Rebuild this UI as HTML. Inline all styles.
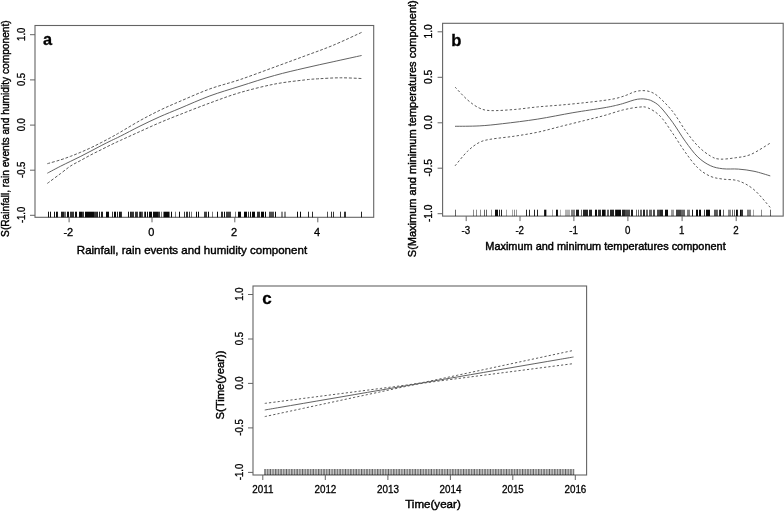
<!DOCTYPE html>
<html><head><meta charset="utf-8"><title>Figure</title>
<style>html,body{margin:0;padding:0;background:#fff}svg{display:block}text{stroke:#000;stroke-width:0.3px;paint-order:stroke}text[textLength]{stroke-width:0.42px}</style></head>
<body>
<svg width="784" height="512" viewBox="0 0 784 512" font-family="'Liberation Sans', sans-serif">
<rect width="784" height="512" fill="#fff"/>
<rect x="35" y="25.5" width="338.7" height="191.8" fill="#fff" stroke="#646464" stroke-width="1.1"/>
<line x1="30" y1="34.7" x2="35" y2="34.7" stroke="#646464" stroke-width="1"/>
<text transform="translate(24.5,34.30) scale(1.14,1) rotate(-90)" text-anchor="middle" font-size="9.5" fill="#000">1.0</text>
<line x1="30" y1="79.9" x2="35" y2="79.9" stroke="#646464" stroke-width="1"/>
<text transform="translate(24.5,79.50) scale(1.14,1) rotate(-90)" text-anchor="middle" font-size="9.5" fill="#000">0.5</text>
<line x1="30" y1="125.1" x2="35" y2="125.1" stroke="#646464" stroke-width="1"/>
<text transform="translate(24.5,124.70) scale(1.14,1) rotate(-90)" text-anchor="middle" font-size="9.5" fill="#000">0.0</text>
<line x1="30" y1="170.2" x2="35" y2="170.2" stroke="#646464" stroke-width="1"/>
<text transform="translate(24.5,169.80) scale(1.14,1) rotate(-90)" text-anchor="middle" font-size="9.5" fill="#000">-0.5</text>
<line x1="30" y1="215.3" x2="35" y2="215.3" stroke="#646464" stroke-width="1"/>
<text transform="translate(24.5,214.90) scale(1.14,1) rotate(-90)" text-anchor="middle" font-size="9.5" fill="#000">-1.0</text>
<line x1="69.1" y1="217.3" x2="69.1" y2="222.3" stroke="#646464" stroke-width="1"/>
<text transform="translate(68.30,235.6) scale(1.0,1)" text-anchor="middle" font-size="11" fill="#000">-2</text>
<line x1="152" y1="217.3" x2="152" y2="222.3" stroke="#646464" stroke-width="1"/>
<text transform="translate(151.20,235.6) scale(1.0,1)" text-anchor="middle" font-size="11" fill="#000">0</text>
<line x1="234.8" y1="217.3" x2="234.8" y2="222.3" stroke="#646464" stroke-width="1"/>
<text transform="translate(234.00,235.6) scale(1.0,1)" text-anchor="middle" font-size="11" fill="#000">2</text>
<line x1="317.8" y1="217.3" x2="317.8" y2="222.3" stroke="#646464" stroke-width="1"/>
<text transform="translate(317.00,235.6) scale(1.0,1)" text-anchor="middle" font-size="11" fill="#000">4</text>
<text x="76.8" y="254.2" font-size="11.6" textLength="230.3" lengthAdjust="spacingAndGlyphs" fill="#000" id="ax">Rainfall, rain events and humidity component</text>
<text transform="translate(8.6,236.9) rotate(-90)" font-size="11.3" textLength="216.6" lengthAdjust="spacingAndGlyphs" fill="#000" id="ay">S(Rainfall, rain events and humidity component)</text>
<text x="43.1" y="44.6" font-size="16.3" font-weight="bold" fill="#000">a</text>
<path d="M47.35 173.20 C49.52 172.05 56.52 168.28 60.40 166.30 C64.27 164.32 67.20 162.97 70.60 161.30 C74.00 159.63 77.40 158.02 80.80 156.30 C84.20 154.58 87.60 152.78 91.00 151.00 C94.40 149.22 97.80 147.35 101.20 145.60 C104.60 143.85 108.20 142.07 111.40 140.50 C114.60 138.93 115.63 138.60 120.40 136.20 C125.17 133.80 133.42 129.35 140.00 126.10 C146.58 122.85 153.23 119.67 159.90 116.70 C166.57 113.73 171.67 111.77 180.00 108.30 C188.33 104.83 199.90 99.58 209.90 95.90 C219.90 92.22 229.23 89.60 240.00 86.20 C250.77 82.80 263.67 78.53 274.50 75.50 C285.33 72.47 295.23 70.29 305.00 68.00 C314.77 65.71 323.67 63.83 333.10 61.75 C342.53 59.67 356.85 56.54 361.60 55.50" fill="none" stroke="#5a5a5a" stroke-width="0.95"/>
<path d="M47.35 163.70 C49.52 163.07 56.52 161.13 60.40 159.90 C64.27 158.67 67.20 157.58 70.60 156.30 C74.00 155.02 77.40 153.63 80.80 152.20 C84.20 150.77 87.60 149.30 91.00 147.70 C94.40 146.10 97.80 144.35 101.20 142.60 C104.60 140.85 108.20 138.95 111.40 137.20 C114.60 135.45 115.63 134.87 120.40 132.10 C125.17 129.33 133.42 124.24 140.00 120.60 C146.58 116.96 153.23 113.47 159.90 110.25 C166.57 107.03 171.67 104.86 180.00 101.30 C188.33 97.74 199.90 92.52 209.90 88.90 C219.90 85.28 229.23 83.23 240.00 79.60 C250.77 75.97 263.67 71.05 274.50 67.10 C285.33 63.15 295.23 59.53 305.00 55.90 C314.77 52.27 323.67 49.22 333.10 45.30 C342.53 41.38 356.85 34.55 361.60 32.40" fill="none" stroke="#5a5a5a" stroke-width="1.0" stroke-dasharray="2.9 1.8"/>
<path d="M47.35 183.40 C49.52 181.78 56.52 176.60 60.40 173.70 C64.27 170.80 67.20 168.22 70.60 166.00 C74.00 163.78 77.40 162.27 80.80 160.40 C84.20 158.53 87.60 156.58 91.00 154.80 C94.40 153.02 97.80 151.40 101.20 149.70 C104.60 148.00 108.20 146.15 111.40 144.60 C114.60 143.05 115.63 142.58 120.40 140.40 C125.17 138.22 133.42 134.47 140.00 131.50 C146.58 128.53 153.23 125.43 159.90 122.60 C166.57 119.77 171.67 117.77 180.00 114.50 C188.33 111.23 199.90 106.65 209.90 103.00 C219.90 99.35 229.23 95.75 240.00 92.60 C250.77 89.45 263.67 86.22 274.50 84.10 C285.33 81.98 297.58 80.79 305.00 79.90 C312.42 79.01 313.13 79.10 319.00 78.75 C324.87 78.40 333.10 77.84 340.20 77.80 C347.30 77.76 358.03 78.38 361.60 78.50" fill="none" stroke="#5a5a5a" stroke-width="1.0" stroke-dasharray="2.9 1.8"/>
<rect x="48" y="211.7" width="1" height="5.60" fill="#000" fill-opacity="0.94"/>
<rect x="50" y="211.7" width="1" height="5.60" fill="#000" fill-opacity="0.94"/>
<rect x="54" y="211.7" width="1" height="5.60" fill="#000" fill-opacity="0.94"/>
<rect x="56" y="211.7" width="1" height="5.60" fill="#000" fill-opacity="0.94"/>
<rect x="57" y="211.7" width="1" height="5.60" fill="#000" fill-opacity="0.87"/>
<rect x="61" y="211.7" width="1" height="5.60" fill="#000" fill-opacity="0.87"/>
<rect x="62" y="211.7" width="1" height="5.60" fill="#000" fill-opacity="0.87"/>
<rect x="63" y="211.7" width="1" height="5.60" fill="#000" fill-opacity="0.87"/>
<rect x="64" y="211.7" width="1" height="5.60" fill="#000" fill-opacity="0.58"/>
<rect x="65" y="211.7" width="1" height="5.60" fill="#000" fill-opacity="0.58"/>
<rect x="67" y="211.7" width="1" height="5.60" fill="#000" fill-opacity="0.96"/>
<rect x="68" y="211.7" width="1" height="5.60" fill="#000" fill-opacity="0.97"/>
<rect x="70" y="211.7" width="1" height="5.60" fill="#000" fill-opacity="0.79"/>
<rect x="71" y="211.7" width="1" height="5.60" fill="#000" fill-opacity="0.79"/>
<rect x="72" y="211.7" width="1" height="5.60" fill="#000" fill-opacity="0.79"/>
<rect x="73" y="211.7" width="1" height="5.60" fill="#000" fill-opacity="0.79"/>
<rect x="75" y="211.7" width="1" height="5.60" fill="#000" fill-opacity="0.94"/>
<rect x="76" y="211.7" width="1" height="5.60" fill="#000" fill-opacity="0.94"/>
<rect x="79" y="211.7" width="1" height="5.60" fill="#000" fill-opacity="0.96"/>
<rect x="80" y="211.7" width="1" height="5.60" fill="#000" fill-opacity="0.96"/>
<rect x="81" y="211.7" width="1" height="5.60" fill="#000" fill-opacity="0.96"/>
<rect x="82" y="211.7" width="1" height="5.60" fill="#000" fill-opacity="0.79"/>
<rect x="83" y="211.7" width="1" height="5.60" fill="#000" fill-opacity="0.79"/>
<rect x="85" y="211.7" width="1" height="5.60" fill="#000" fill-opacity="0.97"/>
<rect x="86" y="211.7" width="1" height="5.60" fill="#000" fill-opacity="0.97"/>
<rect x="87" y="211.7" width="1" height="5.60" fill="#000" fill-opacity="0.97"/>
<rect x="88" y="211.7" width="1" height="5.60" fill="#000" fill-opacity="0.97"/>
<rect x="89" y="211.7" width="1" height="5.60" fill="#000" fill-opacity="0.97"/>
<rect x="90" y="211.7" width="1" height="5.60" fill="#000" fill-opacity="0.97"/>
<rect x="91" y="211.7" width="1" height="5.60" fill="#000" fill-opacity="0.97"/>
<rect x="92" y="211.7" width="1" height="5.60" fill="#000" fill-opacity="0.97"/>
<rect x="93" y="211.7" width="1" height="5.60" fill="#000" fill-opacity="0.97"/>
<rect x="94" y="211.7" width="1" height="5.60" fill="#000" fill-opacity="0.79"/>
<rect x="95" y="211.7" width="1" height="5.60" fill="#000" fill-opacity="0.79"/>
<rect x="96" y="211.7" width="1" height="5.60" fill="#000" fill-opacity="0.79"/>
<rect x="97" y="211.7" width="1" height="5.60" fill="#000" fill-opacity="0.87"/>
<rect x="99" y="211.7" width="1" height="5.60" fill="#000" fill-opacity="0.87"/>
<rect x="101" y="211.7" width="1" height="5.60" fill="#000" fill-opacity="0.87"/>
<rect x="102" y="211.7" width="1" height="5.60" fill="#000" fill-opacity="0.87"/>
<rect x="106" y="211.7" width="1" height="5.60" fill="#000" fill-opacity="0.97"/>
<rect x="107" y="211.7" width="1" height="5.60" fill="#000" fill-opacity="0.97"/>
<rect x="108" y="211.7" width="1" height="5.60" fill="#000" fill-opacity="0.97"/>
<rect x="112" y="211.7" width="1" height="5.60" fill="#000" fill-opacity="0.79"/>
<rect x="114" y="211.7" width="1" height="5.60" fill="#000" fill-opacity="0.97"/>
<rect x="115" y="211.7" width="1" height="5.60" fill="#000" fill-opacity="0.96"/>
<rect x="117" y="211.7" width="1" height="5.60" fill="#000" fill-opacity="0.87"/>
<rect x="119" y="211.7" width="1" height="5.60" fill="#000" fill-opacity="0.94"/>
<rect x="120" y="211.7" width="1" height="5.60" fill="#000" fill-opacity="0.87"/>
<rect x="121" y="211.7" width="1" height="5.60" fill="#000" fill-opacity="0.79"/>
<rect x="128" y="211.7" width="1" height="5.60" fill="#000" fill-opacity="0.94"/>
<rect x="130" y="211.7" width="1" height="5.60" fill="#000" fill-opacity="0.87"/>
<rect x="131" y="211.7" width="1" height="5.60" fill="#000" fill-opacity="0.79"/>
<rect x="132" y="211.7" width="1" height="5.60" fill="#000" fill-opacity="0.79"/>
<rect x="133" y="211.7" width="1" height="5.60" fill="#000" fill-opacity="0.79"/>
<rect x="135" y="211.7" width="1" height="5.60" fill="#000" fill-opacity="0.79"/>
<rect x="136" y="211.7" width="1" height="5.60" fill="#000" fill-opacity="0.79"/>
<rect x="137" y="211.7" width="1" height="5.60" fill="#000" fill-opacity="0.74"/>
<rect x="139" y="211.7" width="1" height="5.60" fill="#000" fill-opacity="0.74"/>
<rect x="140" y="211.7" width="1" height="5.60" fill="#000" fill-opacity="0.92"/>
<rect x="141" y="211.7" width="1" height="5.60" fill="#000" fill-opacity="0.74"/>
<rect x="142" y="211.7" width="1" height="5.60" fill="#000" fill-opacity="0.69"/>
<rect x="144" y="211.7" width="1" height="5.60" fill="#000" fill-opacity="0.69"/>
<rect x="145" y="211.7" width="1" height="5.60" fill="#000" fill-opacity="0.96"/>
<rect x="147" y="211.7" width="1" height="5.60" fill="#000" fill-opacity="0.96"/>
<rect x="149" y="211.7" width="1" height="5.60" fill="#000" fill-opacity="0.97"/>
<rect x="150" y="211.7" width="1" height="5.60" fill="#000" fill-opacity="0.97"/>
<rect x="151" y="211.7" width="1" height="5.60" fill="#000" fill-opacity="0.97"/>
<rect x="153" y="211.7" width="1" height="5.60" fill="#000" fill-opacity="0.94"/>
<rect x="154" y="211.7" width="1" height="5.60" fill="#000" fill-opacity="0.94"/>
<rect x="155" y="211.7" width="1" height="5.60" fill="#000" fill-opacity="0.94"/>
<rect x="156" y="211.7" width="1" height="5.60" fill="#000" fill-opacity="0.94"/>
<rect x="157" y="211.7" width="1" height="5.60" fill="#000" fill-opacity="0.94"/>
<rect x="158" y="211.7" width="1" height="5.60" fill="#000" fill-opacity="0.79"/>
<rect x="159" y="211.7" width="1" height="5.60" fill="#000" fill-opacity="0.79"/>
<rect x="161" y="211.7" width="1" height="5.60" fill="#000" fill-opacity="0.52"/>
<rect x="163" y="211.7" width="1" height="5.60" fill="#000" fill-opacity="0.52"/>
<rect x="164" y="211.7" width="1" height="5.60" fill="#000" fill-opacity="0.96"/>
<rect x="165" y="211.7" width="1" height="5.60" fill="#000" fill-opacity="0.96"/>
<rect x="166" y="211.7" width="1" height="5.60" fill="#000" fill-opacity="0.96"/>
<rect x="167" y="211.7" width="1" height="5.60" fill="#000" fill-opacity="0.96"/>
<rect x="168" y="211.7" width="1" height="5.60" fill="#000" fill-opacity="0.96"/>
<rect x="169" y="211.7" width="1" height="5.60" fill="#000" fill-opacity="0.52"/>
<rect x="171" y="211.7" width="1" height="5.60" fill="#000" fill-opacity="0.97"/>
<rect x="175" y="211.7" width="1" height="5.60" fill="#000" fill-opacity="0.52"/>
<rect x="179" y="211.7" width="1" height="5.60" fill="#000" fill-opacity="0.96"/>
<rect x="184" y="211.7" width="1" height="5.60" fill="#000" fill-opacity="0.79"/>
<rect x="186" y="211.7" width="1" height="5.60" fill="#000" fill-opacity="0.79"/>
<rect x="187" y="211.7" width="1" height="5.60" fill="#000" fill-opacity="0.79"/>
<rect x="189" y="211.7" width="1" height="5.60" fill="#000" fill-opacity="0.79"/>
<rect x="191" y="211.7" width="1" height="5.60" fill="#000" fill-opacity="0.52"/>
<rect x="196" y="211.7" width="1" height="5.60" fill="#000" fill-opacity="0.96"/>
<rect x="198" y="211.7" width="1" height="5.60" fill="#000" fill-opacity="0.96"/>
<rect x="204" y="211.7" width="1" height="5.60" fill="#000" fill-opacity="0.74"/>
<rect x="205" y="211.7" width="1" height="5.60" fill="#000" fill-opacity="0.74"/>
<rect x="206" y="211.7" width="1" height="5.60" fill="#000" fill-opacity="0.74"/>
<rect x="208" y="211.7" width="1" height="5.60" fill="#000" fill-opacity="0.97"/>
<rect x="212" y="211.7" width="1" height="5.60" fill="#000" fill-opacity="0.52"/>
<rect x="217" y="211.7" width="1" height="5.60" fill="#000" fill-opacity="0.96"/>
<rect x="221" y="211.7" width="1" height="5.60" fill="#000" fill-opacity="0.79"/>
<rect x="222" y="211.7" width="1" height="5.60" fill="#000" fill-opacity="0.79"/>
<rect x="224" y="211.7" width="1" height="5.60" fill="#000" fill-opacity="0.96"/>
<rect x="226" y="211.7" width="1" height="5.60" fill="#000" fill-opacity="0.74"/>
<rect x="227" y="211.7" width="1" height="5.60" fill="#000" fill-opacity="0.74"/>
<rect x="228" y="211.7" width="1" height="5.60" fill="#000" fill-opacity="0.74"/>
<rect x="229" y="211.7" width="1" height="5.60" fill="#000" fill-opacity="0.74"/>
<rect x="230" y="211.7" width="1" height="5.60" fill="#000" fill-opacity="0.74"/>
<rect x="235" y="211.7" width="1" height="5.60" fill="#000" fill-opacity="0.52"/>
<rect x="238" y="211.7" width="1" height="5.60" fill="#000" fill-opacity="0.97"/>
<rect x="239" y="211.7" width="1" height="5.60" fill="#000" fill-opacity="0.97"/>
<rect x="240" y="211.7" width="1" height="5.60" fill="#000" fill-opacity="0.97"/>
<rect x="244" y="211.7" width="1" height="5.60" fill="#000" fill-opacity="0.97"/>
<rect x="245" y="211.7" width="1" height="5.60" fill="#000" fill-opacity="0.97"/>
<rect x="246" y="211.7" width="1" height="5.60" fill="#000" fill-opacity="0.97"/>
<rect x="248" y="211.7" width="1" height="5.60" fill="#000" fill-opacity="0.79"/>
<rect x="250" y="211.7" width="1" height="5.60" fill="#000" fill-opacity="0.96"/>
<rect x="252" y="211.7" width="1" height="5.60" fill="#000" fill-opacity="0.96"/>
<rect x="253" y="211.7" width="1" height="5.60" fill="#000" fill-opacity="0.96"/>
<rect x="254" y="211.7" width="1" height="5.60" fill="#000" fill-opacity="0.96"/>
<rect x="257" y="211.7" width="1" height="5.60" fill="#000" fill-opacity="0.79"/>
<rect x="258" y="211.7" width="1" height="5.60" fill="#000" fill-opacity="0.79"/>
<rect x="259" y="211.7" width="1" height="5.60" fill="#000" fill-opacity="0.79"/>
<rect x="261" y="211.7" width="1" height="5.60" fill="#000" fill-opacity="0.96"/>
<rect x="262" y="211.7" width="1" height="5.60" fill="#000" fill-opacity="0.96"/>
<rect x="263" y="211.7" width="1" height="5.60" fill="#000" fill-opacity="0.96"/>
<rect x="265" y="211.7" width="1" height="5.60" fill="#000" fill-opacity="0.97"/>
<rect x="269" y="211.7" width="1" height="5.60" fill="#000" fill-opacity="0.69"/>
<rect x="270" y="211.7" width="1" height="5.60" fill="#000" fill-opacity="0.69"/>
<rect x="271" y="211.7" width="1" height="5.60" fill="#000" fill-opacity="0.69"/>
<rect x="272" y="211.7" width="1" height="5.60" fill="#000" fill-opacity="0.69"/>
<rect x="273" y="211.7" width="1" height="5.60" fill="#000" fill-opacity="0.69"/>
<rect x="275" y="211.7" width="1" height="5.60" fill="#000" fill-opacity="0.97"/>
<rect x="281" y="211.7" width="1" height="5.60" fill="#000" fill-opacity="0.45"/>
<rect x="282" y="211.7" width="1" height="5.60" fill="#000" fill-opacity="0.45"/>
<rect x="284" y="211.7" width="1" height="5.60" fill="#000" fill-opacity="0.45"/>
<rect x="285" y="211.7" width="1" height="5.60" fill="#000" fill-opacity="0.45"/>
<rect x="297" y="211.7" width="1" height="5.60" fill="#000" fill-opacity="0.96"/>
<rect x="300" y="211.7" width="1" height="5.60" fill="#000" fill-opacity="0.96"/>
<rect x="308" y="211.7" width="1" height="5.60" fill="#000" fill-opacity="0.83"/>
<rect x="312" y="211.7" width="1" height="5.60" fill="#000" fill-opacity="0.83"/>
<rect x="327" y="211.7" width="1" height="5.60" fill="#000" fill-opacity="0.69"/>
<rect x="331" y="211.7" width="1" height="5.60" fill="#000" fill-opacity="0.79"/>
<rect x="333" y="211.7" width="1" height="5.60" fill="#000" fill-opacity="0.79"/>
<rect x="340" y="211.7" width="1" height="5.60" fill="#000" fill-opacity="0.79"/>
<rect x="344" y="211.7" width="1" height="5.60" fill="#000" fill-opacity="0.79"/>
<rect x="345" y="211.7" width="1" height="5.60" fill="#000" fill-opacity="0.79"/>
<rect x="361" y="211.7" width="1" height="5.60" fill="#000" fill-opacity="0.87"/>
<rect x="442.6" y="23.3" width="340.6" height="192.79999999999998" fill="#fff" stroke="#646464" stroke-width="1.1"/>
<line x1="437.6" y1="31.8" x2="442.6" y2="31.8" stroke="#646464" stroke-width="1"/>
<text transform="translate(431.9,31.40) scale(1.06,1) rotate(-90)" text-anchor="middle" font-size="10.2" fill="#000">1.0</text>
<line x1="437.6" y1="77.3" x2="442.6" y2="77.3" stroke="#646464" stroke-width="1"/>
<text transform="translate(431.9,76.90) scale(1.06,1) rotate(-90)" text-anchor="middle" font-size="10.2" fill="#000">0.5</text>
<line x1="437.6" y1="122.8" x2="442.6" y2="122.8" stroke="#646464" stroke-width="1"/>
<text transform="translate(431.9,122.40) scale(1.06,1) rotate(-90)" text-anchor="middle" font-size="10.2" fill="#000">0.0</text>
<line x1="437.6" y1="168.2" x2="442.6" y2="168.2" stroke="#646464" stroke-width="1"/>
<text transform="translate(431.9,167.80) scale(1.06,1) rotate(-90)" text-anchor="middle" font-size="10.2" fill="#000">-0.5</text>
<line x1="437.6" y1="213.7" x2="442.6" y2="213.7" stroke="#646464" stroke-width="1"/>
<text transform="translate(431.9,213.30) scale(1.06,1) rotate(-90)" text-anchor="middle" font-size="10.2" fill="#000">-1.0</text>
<line x1="466.2" y1="216.1" x2="466.2" y2="221.1" stroke="#646464" stroke-width="1"/>
<text transform="translate(465.90,233.9) scale(0.9,1)" text-anchor="middle" font-size="10.8" fill="#000">-3</text>
<line x1="520" y1="216.1" x2="520" y2="221.1" stroke="#646464" stroke-width="1"/>
<text transform="translate(519.70,233.9) scale(0.9,1)" text-anchor="middle" font-size="10.8" fill="#000">-2</text>
<line x1="573.9" y1="216.1" x2="573.9" y2="221.1" stroke="#646464" stroke-width="1"/>
<text transform="translate(573.60,233.9) scale(0.9,1)" text-anchor="middle" font-size="10.8" fill="#000">-1</text>
<line x1="627.9" y1="216.1" x2="627.9" y2="221.1" stroke="#646464" stroke-width="1"/>
<text transform="translate(627.60,233.9) scale(0.9,1)" text-anchor="middle" font-size="10.8" fill="#000">0</text>
<line x1="682.1" y1="216.1" x2="682.1" y2="221.1" stroke="#646464" stroke-width="1"/>
<text transform="translate(681.80,233.9) scale(0.9,1)" text-anchor="middle" font-size="10.8" fill="#000">1</text>
<line x1="736.2" y1="216.1" x2="736.2" y2="221.1" stroke="#646464" stroke-width="1"/>
<text transform="translate(735.90,233.9) scale(0.9,1)" text-anchor="middle" font-size="10.8" fill="#000">2</text>
<text x="485.3" y="250" font-size="10.3" textLength="240.4" lengthAdjust="spacingAndGlyphs" fill="#000" id="bx">Maximum and minimum temperatures component</text>
<text transform="translate(416.1,257.2) rotate(-90)" font-size="11.2" textLength="257" lengthAdjust="spacingAndGlyphs" fill="#000" id="by">S(Maximum and minimum temperatures component)</text>
<text x="451.2" y="45.7" font-size="16.6" font-weight="bold" fill="#000">b</text>
<path d="M455.00 126.30 C459.03 126.23 471.27 126.33 479.20 125.90 C487.13 125.47 492.85 124.83 502.60 123.70 C512.35 122.57 525.98 120.93 537.70 119.10 C549.42 117.27 561.85 114.58 572.90 112.70 C583.95 110.82 596.48 109.10 604.00 107.80 C611.52 106.50 614.33 105.77 618.00 104.90 C621.67 104.03 623.28 103.43 626.00 102.60 C628.72 101.77 631.88 100.52 634.30 99.90 C636.72 99.28 638.55 99.02 640.50 98.90 C642.45 98.78 644.08 98.85 646.00 99.20 C647.92 99.55 649.62 99.72 652.00 101.00 C654.38 102.28 656.79 103.32 660.25 106.90 C663.71 110.48 668.58 116.78 672.75 122.50 C676.92 128.22 681.08 135.52 685.25 141.25 C689.42 146.98 693.58 152.84 697.75 156.90 C701.92 160.96 706.08 163.62 710.25 165.60 C714.42 167.57 718.06 168.17 722.75 168.75 C727.44 169.33 733.19 168.68 738.40 169.10 C743.61 169.52 748.69 170.12 754.00 171.25 C759.31 172.38 767.54 175.12 770.25 175.90" fill="none" stroke="#5a5a5a" stroke-width="0.95"/>
<path d="M455.00 87.00 C457.07 89.13 463.37 96.30 467.40 99.80 C471.43 103.30 475.28 106.20 479.20 108.00 C483.12 109.80 485.05 110.35 490.90 110.60 C496.75 110.85 506.50 110.12 514.30 109.50 C522.10 108.88 529.88 107.65 537.70 106.90 C545.52 106.15 553.38 105.70 561.20 105.00 C569.02 104.30 577.47 103.47 584.60 102.70 C591.73 101.93 598.77 101.12 604.00 100.40 C609.23 99.68 612.32 99.25 616.00 98.40 C619.68 97.55 623.05 96.38 626.10 95.30 C629.15 94.22 631.58 92.68 634.30 91.90 C637.02 91.12 639.68 90.60 642.40 90.60 C645.12 90.60 647.87 90.83 650.60 91.90 C653.33 92.97 655.11 93.72 658.80 97.00 C662.49 100.28 668.34 106.05 672.75 111.60 C677.16 117.15 681.08 124.58 685.25 130.30 C689.42 136.02 693.58 141.63 697.75 145.90 C701.92 150.17 706.61 153.70 710.25 155.90 C713.89 158.10 715.43 158.78 719.60 159.10 C723.77 159.42 730.03 158.58 735.25 157.80 C740.47 157.02 745.07 156.85 750.90 154.40 C756.73 151.95 767.02 144.98 770.25 143.10" fill="none" stroke="#5a5a5a" stroke-width="1.0" stroke-dasharray="2.4 2.1"/>
<path d="M455.00 165.90 C457.07 163.48 463.37 155.30 467.40 151.40 C471.43 147.50 475.28 144.53 479.20 142.50 C483.12 140.47 485.05 140.25 490.90 139.20 C496.75 138.15 506.50 137.37 514.30 136.20 C522.10 135.03 529.88 133.85 537.70 132.20 C545.52 130.55 553.38 128.25 561.20 126.30 C569.02 124.35 577.47 122.28 584.60 120.50 C591.73 118.72 597.64 117.35 604.00 115.60 C610.36 113.85 617.02 111.40 622.75 110.00 C628.48 108.60 634.23 107.57 638.40 107.20 C642.57 106.83 644.11 106.29 647.75 107.80 C651.39 109.31 656.08 111.98 660.25 116.25 C664.42 120.52 668.58 127.41 672.75 133.40 C676.92 139.39 681.08 146.47 685.25 152.20 C689.42 157.93 693.58 163.79 697.75 167.80 C701.92 171.81 706.08 174.37 710.25 176.25 C714.42 178.13 718.06 178.32 722.75 179.10 C727.44 179.88 733.19 179.13 738.40 180.90 C743.61 182.67 748.69 185.27 754.00 189.70 C759.31 194.13 767.54 204.53 770.25 207.50" fill="none" stroke="#5a5a5a" stroke-width="1.0" stroke-dasharray="2.4 2.1"/>
<rect x="455" y="209.7" width="1" height="6.40" fill="#000" fill-opacity="0.60"/>
<rect x="473" y="209.7" width="1" height="6.40" fill="#000" fill-opacity="0.45"/>
<rect x="476" y="209.7" width="1" height="6.40" fill="#000" fill-opacity="0.45"/>
<rect x="480" y="209.7" width="1" height="6.40" fill="#000" fill-opacity="0.45"/>
<rect x="484" y="209.7" width="1" height="6.40" fill="#000" fill-opacity="0.60"/>
<rect x="486" y="209.7" width="1" height="6.40" fill="#000" fill-opacity="0.60"/>
<rect x="491" y="209.7" width="1" height="6.40" fill="#000" fill-opacity="0.40"/>
<rect x="495" y="209.7" width="1" height="6.40" fill="#000" fill-opacity="0.95"/>
<rect x="496" y="209.7" width="1" height="6.40" fill="#000" fill-opacity="0.95"/>
<rect x="497" y="209.7" width="1" height="6.40" fill="#000" fill-opacity="0.95"/>
<rect x="499" y="209.7" width="1" height="6.40" fill="#000" fill-opacity="0.85"/>
<rect x="501" y="209.7" width="1" height="6.40" fill="#000" fill-opacity="0.85"/>
<rect x="506" y="209.7" width="1" height="6.40" fill="#000" fill-opacity="0.35"/>
<rect x="512" y="209.7" width="1" height="6.40" fill="#000" fill-opacity="0.35"/>
<rect x="514" y="209.7" width="1" height="6.40" fill="#000" fill-opacity="0.45"/>
<rect x="516" y="209.7" width="1" height="6.40" fill="#000" fill-opacity="0.40"/>
<rect x="526" y="209.7" width="1" height="6.40" fill="#000" fill-opacity="0.85"/>
<rect x="529" y="209.7" width="1" height="6.40" fill="#000" fill-opacity="0.85"/>
<rect x="534" y="209.7" width="1" height="6.40" fill="#000" fill-opacity="0.85"/>
<rect x="537" y="209.7" width="1" height="6.40" fill="#000" fill-opacity="0.85"/>
<rect x="544" y="209.7" width="1" height="6.40" fill="#000" fill-opacity="0.85"/>
<rect x="545" y="209.7" width="1" height="6.40" fill="#000" fill-opacity="0.97"/>
<rect x="546" y="209.7" width="1" height="6.40" fill="#000" fill-opacity="0.35"/>
<rect x="552" y="209.7" width="1" height="6.40" fill="#000" fill-opacity="0.35"/>
<rect x="556" y="209.7" width="1" height="6.40" fill="#000" fill-opacity="0.97"/>
<rect x="557" y="209.7" width="1" height="6.40" fill="#000" fill-opacity="0.90"/>
<rect x="560" y="209.7" width="1" height="6.40" fill="#000" fill-opacity="0.30"/>
<rect x="565" y="209.7" width="1" height="6.40" fill="#000" fill-opacity="0.30"/>
<rect x="566" y="209.7" width="1" height="6.40" fill="#000" fill-opacity="0.30"/>
<rect x="567" y="209.7" width="1" height="6.40" fill="#000" fill-opacity="0.30"/>
<rect x="568" y="209.7" width="1" height="6.40" fill="#000" fill-opacity="0.30"/>
<rect x="569" y="209.7" width="1" height="6.40" fill="#000" fill-opacity="0.30"/>
<rect x="571" y="209.7" width="1" height="6.40" fill="#000" fill-opacity="0.50"/>
<rect x="572" y="209.7" width="1" height="6.40" fill="#000" fill-opacity="0.50"/>
<rect x="573" y="209.7" width="1" height="6.40" fill="#000" fill-opacity="0.50"/>
<rect x="574" y="209.7" width="1" height="6.40" fill="#000" fill-opacity="0.50"/>
<rect x="576" y="209.7" width="1" height="6.40" fill="#000" fill-opacity="0.90"/>
<rect x="577" y="209.7" width="1" height="6.40" fill="#000" fill-opacity="0.90"/>
<rect x="578" y="209.7" width="1" height="6.40" fill="#000" fill-opacity="0.90"/>
<rect x="581" y="209.7" width="1" height="6.40" fill="#000" fill-opacity="0.60"/>
<rect x="583" y="209.7" width="1" height="6.40" fill="#000" fill-opacity="0.85"/>
<rect x="584" y="209.7" width="1" height="6.40" fill="#000" fill-opacity="0.85"/>
<rect x="585" y="209.7" width="1" height="6.40" fill="#000" fill-opacity="0.85"/>
<rect x="586" y="209.7" width="1" height="6.40" fill="#000" fill-opacity="0.85"/>
<rect x="587" y="209.7" width="1" height="6.40" fill="#000" fill-opacity="0.85"/>
<rect x="589" y="209.7" width="1" height="6.40" fill="#000" fill-opacity="0.85"/>
<rect x="590" y="209.7" width="1" height="6.40" fill="#000" fill-opacity="0.85"/>
<rect x="591" y="209.7" width="1" height="6.40" fill="#000" fill-opacity="0.85"/>
<rect x="595" y="209.7" width="1" height="6.40" fill="#000" fill-opacity="0.97"/>
<rect x="596" y="209.7" width="1" height="6.40" fill="#000" fill-opacity="0.95"/>
<rect x="598" y="209.7" width="1" height="6.40" fill="#000" fill-opacity="0.80"/>
<rect x="599" y="209.7" width="1" height="6.40" fill="#000" fill-opacity="0.80"/>
<rect x="600" y="209.7" width="1" height="6.40" fill="#000" fill-opacity="0.80"/>
<rect x="602" y="209.7" width="1" height="6.40" fill="#000" fill-opacity="0.95"/>
<rect x="603" y="209.7" width="1" height="6.40" fill="#000" fill-opacity="0.97"/>
<rect x="604" y="209.7" width="1" height="6.40" fill="#000" fill-opacity="0.95"/>
<rect x="605" y="209.7" width="1" height="6.40" fill="#000" fill-opacity="0.60"/>
<rect x="607" y="209.7" width="1" height="6.40" fill="#000" fill-opacity="0.60"/>
<rect x="608" y="209.7" width="1" height="6.40" fill="#000" fill-opacity="0.60"/>
<rect x="610" y="209.7" width="1" height="6.40" fill="#000" fill-opacity="0.85"/>
<rect x="611" y="209.7" width="1" height="6.40" fill="#000" fill-opacity="0.85"/>
<rect x="612" y="209.7" width="1" height="6.40" fill="#000" fill-opacity="0.85"/>
<rect x="613" y="209.7" width="1" height="6.40" fill="#000" fill-opacity="0.85"/>
<rect x="615" y="209.7" width="1" height="6.40" fill="#000" fill-opacity="0.85"/>
<rect x="616" y="209.7" width="1" height="6.40" fill="#000" fill-opacity="0.97"/>
<rect x="617" y="209.7" width="1" height="6.40" fill="#000" fill-opacity="0.95"/>
<rect x="618" y="209.7" width="1" height="6.40" fill="#000" fill-opacity="0.95"/>
<rect x="619" y="209.7" width="1" height="6.40" fill="#000" fill-opacity="0.97"/>
<rect x="620" y="209.7" width="1" height="6.40" fill="#000" fill-opacity="0.95"/>
<rect x="622" y="209.7" width="1" height="6.40" fill="#000" fill-opacity="0.85"/>
<rect x="623" y="209.7" width="1" height="6.40" fill="#000" fill-opacity="0.85"/>
<rect x="624" y="209.7" width="1" height="6.40" fill="#000" fill-opacity="0.85"/>
<rect x="625" y="209.7" width="1" height="6.40" fill="#000" fill-opacity="0.70"/>
<rect x="626" y="209.7" width="1" height="6.40" fill="#000" fill-opacity="0.70"/>
<rect x="627" y="209.7" width="1" height="6.40" fill="#000" fill-opacity="0.70"/>
<rect x="628" y="209.7" width="1" height="6.40" fill="#000" fill-opacity="0.70"/>
<rect x="629" y="209.7" width="1" height="6.40" fill="#000" fill-opacity="0.70"/>
<rect x="631" y="209.7" width="1" height="6.40" fill="#000" fill-opacity="0.90"/>
<rect x="632" y="209.7" width="1" height="6.40" fill="#000" fill-opacity="0.90"/>
<rect x="636" y="209.7" width="1" height="6.40" fill="#000" fill-opacity="0.60"/>
<rect x="638" y="209.7" width="1" height="6.40" fill="#000" fill-opacity="0.60"/>
<rect x="640" y="209.7" width="1" height="6.40" fill="#000" fill-opacity="0.60"/>
<rect x="641" y="209.7" width="1" height="6.40" fill="#000" fill-opacity="0.60"/>
<rect x="643" y="209.7" width="1" height="6.40" fill="#000" fill-opacity="0.85"/>
<rect x="644" y="209.7" width="1" height="6.40" fill="#000" fill-opacity="0.85"/>
<rect x="646" y="209.7" width="1" height="6.40" fill="#000" fill-opacity="0.60"/>
<rect x="647" y="209.7" width="1" height="6.40" fill="#000" fill-opacity="0.60"/>
<rect x="649" y="209.7" width="1" height="6.40" fill="#000" fill-opacity="0.60"/>
<rect x="650" y="209.7" width="1" height="6.40" fill="#000" fill-opacity="0.60"/>
<rect x="651" y="209.7" width="1" height="6.40" fill="#000" fill-opacity="0.60"/>
<rect x="653" y="209.7" width="1" height="6.40" fill="#000" fill-opacity="0.70"/>
<rect x="654" y="209.7" width="1" height="6.40" fill="#000" fill-opacity="0.70"/>
<rect x="657" y="209.7" width="1" height="6.40" fill="#000" fill-opacity="0.70"/>
<rect x="658" y="209.7" width="1" height="6.40" fill="#000" fill-opacity="0.70"/>
<rect x="659" y="209.7" width="1" height="6.40" fill="#000" fill-opacity="0.70"/>
<rect x="660" y="209.7" width="1" height="6.40" fill="#000" fill-opacity="0.85"/>
<rect x="661" y="209.7" width="1" height="6.40" fill="#000" fill-opacity="0.85"/>
<rect x="662" y="209.7" width="1" height="6.40" fill="#000" fill-opacity="0.85"/>
<rect x="665" y="209.7" width="1" height="6.40" fill="#000" fill-opacity="0.97"/>
<rect x="666" y="209.7" width="1" height="6.40" fill="#000" fill-opacity="0.95"/>
<rect x="667" y="209.7" width="1" height="6.40" fill="#000" fill-opacity="0.97"/>
<rect x="671" y="209.7" width="1" height="6.40" fill="#000" fill-opacity="0.40"/>
<rect x="672" y="209.7" width="1" height="6.40" fill="#000" fill-opacity="0.40"/>
<rect x="673" y="209.7" width="1" height="6.40" fill="#000" fill-opacity="0.40"/>
<rect x="676" y="209.7" width="1" height="6.40" fill="#000" fill-opacity="0.75"/>
<rect x="677" y="209.7" width="1" height="6.40" fill="#000" fill-opacity="0.75"/>
<rect x="678" y="209.7" width="1" height="6.40" fill="#000" fill-opacity="0.75"/>
<rect x="679" y="209.7" width="1" height="6.40" fill="#000" fill-opacity="0.75"/>
<rect x="680" y="209.7" width="1" height="6.40" fill="#000" fill-opacity="0.75"/>
<rect x="681" y="209.7" width="1" height="6.40" fill="#000" fill-opacity="0.60"/>
<rect x="682" y="209.7" width="1" height="6.40" fill="#000" fill-opacity="0.60"/>
<rect x="683" y="209.7" width="1" height="6.40" fill="#000" fill-opacity="0.60"/>
<rect x="684" y="209.7" width="1" height="6.40" fill="#000" fill-opacity="0.60"/>
<rect x="687" y="209.7" width="1" height="6.40" fill="#000" fill-opacity="0.50"/>
<rect x="688" y="209.7" width="1" height="6.40" fill="#000" fill-opacity="0.50"/>
<rect x="689" y="209.7" width="1" height="6.40" fill="#000" fill-opacity="0.50"/>
<rect x="692" y="209.7" width="1" height="6.40" fill="#000" fill-opacity="0.90"/>
<rect x="696" y="209.7" width="1" height="6.40" fill="#000" fill-opacity="0.95"/>
<rect x="697" y="209.7" width="1" height="6.40" fill="#000" fill-opacity="0.97"/>
<rect x="699" y="209.7" width="1" height="6.40" fill="#000" fill-opacity="0.95"/>
<rect x="700" y="209.7" width="1" height="6.40" fill="#000" fill-opacity="0.97"/>
<rect x="704" y="209.7" width="1" height="6.40" fill="#000" fill-opacity="0.75"/>
<rect x="706" y="209.7" width="1" height="6.40" fill="#000" fill-opacity="0.95"/>
<rect x="707" y="209.7" width="1" height="6.40" fill="#000" fill-opacity="0.95"/>
<rect x="708" y="209.7" width="1" height="6.40" fill="#000" fill-opacity="0.97"/>
<rect x="709" y="209.7" width="1" height="6.40" fill="#000" fill-opacity="0.95"/>
<rect x="714" y="209.7" width="1" height="6.40" fill="#000" fill-opacity="0.65"/>
<rect x="715" y="209.7" width="1" height="6.40" fill="#000" fill-opacity="0.65"/>
<rect x="716" y="209.7" width="1" height="6.40" fill="#000" fill-opacity="0.65"/>
<rect x="717" y="209.7" width="1" height="6.40" fill="#000" fill-opacity="0.60"/>
<rect x="719" y="209.7" width="1" height="6.40" fill="#000" fill-opacity="0.80"/>
<rect x="720" y="209.7" width="1" height="6.40" fill="#000" fill-opacity="0.96"/>
<rect x="723" y="209.7" width="1" height="6.40" fill="#000" fill-opacity="0.60"/>
<rect x="728" y="209.7" width="1" height="6.40" fill="#000" fill-opacity="0.45"/>
<rect x="729" y="209.7" width="1" height="6.40" fill="#000" fill-opacity="0.45"/>
<rect x="730" y="209.7" width="1" height="6.40" fill="#000" fill-opacity="0.45"/>
<rect x="732" y="209.7" width="1" height="6.40" fill="#000" fill-opacity="0.60"/>
<rect x="734" y="209.7" width="1" height="6.40" fill="#000" fill-opacity="0.60"/>
<rect x="736" y="209.7" width="1" height="6.40" fill="#000" fill-opacity="0.97"/>
<rect x="737" y="209.7" width="1" height="6.40" fill="#000" fill-opacity="0.85"/>
<rect x="740" y="209.7" width="1" height="6.40" fill="#000" fill-opacity="0.96"/>
<rect x="741" y="209.7" width="1" height="6.40" fill="#000" fill-opacity="0.80"/>
<rect x="742" y="209.7" width="1" height="6.40" fill="#000" fill-opacity="0.80"/>
<rect x="747" y="209.7" width="1" height="6.40" fill="#000" fill-opacity="0.50"/>
<rect x="748" y="209.7" width="1" height="6.40" fill="#000" fill-opacity="0.50"/>
<rect x="749" y="209.7" width="1" height="6.40" fill="#000" fill-opacity="0.50"/>
<rect x="750" y="209.7" width="1" height="6.40" fill="#000" fill-opacity="0.50"/>
<rect x="753" y="209.7" width="1" height="6.40" fill="#000" fill-opacity="0.35"/>
<rect x="761" y="209.7" width="1" height="6.40" fill="#000" fill-opacity="0.45"/>
<rect x="770" y="209.7" width="1" height="6.40" fill="#000" fill-opacity="0.60"/>
<rect x="253" y="286" width="333.6" height="189" fill="#fff" stroke="#646464" stroke-width="1.1"/>
<line x1="248" y1="294.5" x2="253" y2="294.5" stroke="#646464" stroke-width="1"/>
<text transform="translate(243,294.10) scale(1.14,1) rotate(-90)" text-anchor="middle" font-size="9.5" fill="#000">1.0</text>
<line x1="248" y1="339" x2="253" y2="339" stroke="#646464" stroke-width="1"/>
<text transform="translate(243,338.60) scale(1.14,1) rotate(-90)" text-anchor="middle" font-size="9.5" fill="#000">0.5</text>
<line x1="248" y1="383.4" x2="253" y2="383.4" stroke="#646464" stroke-width="1"/>
<text transform="translate(243,383.00) scale(1.14,1) rotate(-90)" text-anchor="middle" font-size="9.5" fill="#000">0.0</text>
<line x1="248" y1="427.9" x2="253" y2="427.9" stroke="#646464" stroke-width="1"/>
<text transform="translate(243,427.50) scale(1.14,1) rotate(-90)" text-anchor="middle" font-size="9.5" fill="#000">-0.5</text>
<line x1="248" y1="472.4" x2="253" y2="472.4" stroke="#646464" stroke-width="1"/>
<text transform="translate(243,472.00) scale(1.14,1) rotate(-90)" text-anchor="middle" font-size="9.5" fill="#000">-1.0</text>
<line x1="262.8" y1="475" x2="262.8" y2="480" stroke="#646464" stroke-width="1"/>
<text transform="translate(262.90,492.9) scale(0.92,1)" text-anchor="middle" font-size="10.7" fill="#000">2011</text>
<line x1="325.3" y1="475" x2="325.3" y2="480" stroke="#646464" stroke-width="1"/>
<text transform="translate(325.40,492.9) scale(0.92,1)" text-anchor="middle" font-size="10.7" fill="#000">2012</text>
<line x1="387.9" y1="475" x2="387.9" y2="480" stroke="#646464" stroke-width="1"/>
<text transform="translate(388.00,492.9) scale(0.92,1)" text-anchor="middle" font-size="10.7" fill="#000">2013</text>
<line x1="450.4" y1="475" x2="450.4" y2="480" stroke="#646464" stroke-width="1"/>
<text transform="translate(450.50,492.9) scale(0.92,1)" text-anchor="middle" font-size="10.7" fill="#000">2014</text>
<line x1="512.8" y1="475" x2="512.8" y2="480" stroke="#646464" stroke-width="1"/>
<text transform="translate(512.90,492.9) scale(0.92,1)" text-anchor="middle" font-size="10.7" fill="#000">2015</text>
<line x1="575.3" y1="475" x2="575.3" y2="480" stroke="#646464" stroke-width="1"/>
<text transform="translate(575.40,492.9) scale(0.92,1)" text-anchor="middle" font-size="10.7" fill="#000">2016</text>
<text x="405.2" y="508.3" font-size="11.1" textLength="55.6" lengthAdjust="spacingAndGlyphs" fill="#000" id="cx">Time(year)</text>
<text transform="translate(223.7,419.5) rotate(-90)" font-size="11.2" textLength="69" lengthAdjust="spacingAndGlyphs" fill="#000" id="cy">S(Time(year))</text>
<text x="262.3" y="303.7" font-size="17" font-weight="bold" fill="#000">c</text>
<path d="M264.75 410.00 C266.89 409.63 273.33 408.53 277.61 407.79 C281.90 407.06 286.19 406.32 290.48 405.58 C294.77 404.85 299.06 404.11 303.34 403.38 C307.63 402.64 311.92 401.90 316.21 401.17 C320.50 400.43 324.78 399.69 329.07 398.96 C333.36 398.22 337.65 397.49 341.94 396.75 C346.23 396.01 350.51 395.28 354.80 394.54 C359.09 393.81 363.38 393.07 367.67 392.33 C371.95 391.60 376.24 390.86 380.53 390.12 C384.82 389.39 389.11 388.65 393.40 387.92 C397.68 387.18 401.97 386.44 406.26 385.71 C410.55 384.97 414.84 384.24 419.12 383.50 C423.41 382.76 427.70 382.03 431.99 381.29 C436.28 380.56 440.57 379.82 444.85 379.08 C449.14 378.35 453.43 377.61 457.72 376.88 C462.01 376.14 466.30 375.40 470.58 374.67 C474.87 373.93 479.16 373.19 483.45 372.46 C487.74 371.72 492.02 370.99 496.31 370.25 C500.60 369.51 504.89 368.78 509.18 368.04 C513.47 367.31 517.75 366.57 522.04 365.83 C526.33 365.10 530.62 364.36 534.91 363.62 C539.19 362.89 543.48 362.15 547.77 361.42 C552.06 360.68 556.35 359.94 560.64 359.21 C564.92 358.47 571.36 357.37 573.50 357.00" fill="none" stroke="#5a5a5a" stroke-width="0.95"/>
<path d="M264.75 403.40 C266.89 403.12 273.33 402.30 277.61 401.74 C281.90 401.19 286.19 400.64 290.48 400.08 C294.77 399.53 299.06 398.98 303.34 398.42 C307.63 397.87 311.92 397.32 316.21 396.76 C320.50 396.21 324.78 395.65 329.07 395.10 C333.36 394.55 337.65 393.99 341.94 393.44 C346.23 392.89 350.51 392.33 354.80 391.78 C359.09 391.22 363.38 390.67 367.67 390.11 C371.95 389.56 376.24 389.00 380.53 388.44 C384.82 387.89 389.11 387.33 393.40 386.77 C397.68 386.20 401.97 385.66 406.26 385.06 C410.55 384.46 414.84 383.89 419.12 383.15 C423.41 382.41 427.70 381.51 431.99 380.64 C436.28 379.76 440.57 378.83 444.85 377.92 C449.14 377.02 453.43 376.10 457.72 375.18 C462.01 374.27 466.30 373.35 470.58 372.44 C474.87 371.52 479.16 370.60 483.45 369.68 C487.74 368.77 492.02 367.85 496.31 366.93 C500.60 366.01 504.89 365.09 509.18 364.17 C513.47 363.26 517.75 362.34 522.04 361.42 C526.33 360.50 530.62 359.58 534.91 358.66 C539.19 357.74 543.48 356.82 547.77 355.90 C552.06 354.99 556.35 354.07 560.64 353.15 C564.92 352.23 571.36 350.85 573.50 350.39" fill="none" stroke="#5a5a5a" stroke-width="1.0" stroke-dasharray="2.2 2.1"/>
<path d="M264.75 416.60 C266.89 416.14 273.33 414.76 277.61 413.84 C281.90 412.92 286.19 412.00 290.48 411.08 C294.77 410.17 299.06 409.25 303.34 408.33 C307.63 407.41 311.92 406.49 316.21 405.57 C320.50 404.65 324.78 403.73 329.07 402.82 C333.36 401.90 337.65 400.98 341.94 400.06 C346.23 399.14 350.51 398.22 354.80 397.31 C359.09 396.39 363.38 395.47 367.67 394.55 C371.95 393.64 376.24 392.72 380.53 391.81 C384.82 390.89 389.11 389.97 393.40 389.07 C397.68 388.16 401.97 387.22 406.26 386.36 C410.55 385.49 414.84 384.58 419.12 383.85 C423.41 383.12 427.70 382.55 431.99 381.95 C436.28 381.35 440.57 380.81 444.85 380.24 C449.14 379.68 453.43 379.12 457.72 378.57 C462.01 378.01 466.30 377.45 470.58 376.90 C474.87 376.34 479.16 375.79 483.45 375.23 C487.74 374.68 492.02 374.13 496.31 373.57 C500.60 373.02 504.89 372.46 509.18 371.91 C513.47 371.36 517.75 370.80 522.04 370.25 C526.33 369.70 530.62 369.14 534.91 368.59 C539.19 368.04 543.48 367.48 547.77 366.93 C552.06 366.38 556.35 365.82 560.64 365.27 C564.92 364.72 571.36 363.89 573.50 363.61" fill="none" stroke="#5a5a5a" stroke-width="1.0" stroke-dasharray="2.2 2.1"/>
<rect x="264.2" y="469" width="310" height="6" fill="#000" fill-opacity="0.22"/>
<line x1="265.00" y1="469" x2="265.00" y2="475" stroke="#000" stroke-opacity="0.5" stroke-width="1.25"/>
<line x1="267.68" y1="469" x2="267.68" y2="475" stroke="#000" stroke-opacity="0.38" stroke-width="1.25"/>
<line x1="270.37" y1="469" x2="270.37" y2="475" stroke="#000" stroke-opacity="0.5" stroke-width="1.25"/>
<line x1="273.05" y1="469" x2="273.05" y2="475" stroke="#000" stroke-opacity="0.38" stroke-width="1.25"/>
<line x1="275.73" y1="469" x2="275.73" y2="475" stroke="#000" stroke-opacity="0.5" stroke-width="1.25"/>
<line x1="278.42" y1="469" x2="278.42" y2="475" stroke="#000" stroke-opacity="0.38" stroke-width="1.25"/>
<line x1="281.10" y1="469" x2="281.10" y2="475" stroke="#000" stroke-opacity="0.5" stroke-width="1.25"/>
<line x1="283.78" y1="469" x2="283.78" y2="475" stroke="#000" stroke-opacity="0.38" stroke-width="1.25"/>
<line x1="286.47" y1="469" x2="286.47" y2="475" stroke="#000" stroke-opacity="0.5" stroke-width="1.25"/>
<line x1="289.15" y1="469" x2="289.15" y2="475" stroke="#000" stroke-opacity="0.38" stroke-width="1.25"/>
<line x1="291.83" y1="469" x2="291.83" y2="475" stroke="#000" stroke-opacity="0.5" stroke-width="1.25"/>
<line x1="294.52" y1="469" x2="294.52" y2="475" stroke="#000" stroke-opacity="0.38" stroke-width="1.25"/>
<line x1="297.20" y1="469" x2="297.20" y2="475" stroke="#000" stroke-opacity="0.5" stroke-width="1.25"/>
<line x1="299.89" y1="469" x2="299.89" y2="475" stroke="#000" stroke-opacity="0.38" stroke-width="1.25"/>
<line x1="302.57" y1="469" x2="302.57" y2="475" stroke="#000" stroke-opacity="0.5" stroke-width="1.25"/>
<line x1="305.25" y1="469" x2="305.25" y2="475" stroke="#000" stroke-opacity="0.38" stroke-width="1.25"/>
<line x1="307.94" y1="469" x2="307.94" y2="475" stroke="#000" stroke-opacity="0.5" stroke-width="1.25"/>
<line x1="310.62" y1="469" x2="310.62" y2="475" stroke="#000" stroke-opacity="0.38" stroke-width="1.25"/>
<line x1="313.30" y1="469" x2="313.30" y2="475" stroke="#000" stroke-opacity="0.5" stroke-width="1.25"/>
<line x1="315.99" y1="469" x2="315.99" y2="475" stroke="#000" stroke-opacity="0.38" stroke-width="1.25"/>
<line x1="318.67" y1="469" x2="318.67" y2="475" stroke="#000" stroke-opacity="0.5" stroke-width="1.25"/>
<line x1="321.35" y1="469" x2="321.35" y2="475" stroke="#000" stroke-opacity="0.38" stroke-width="1.25"/>
<line x1="324.04" y1="469" x2="324.04" y2="475" stroke="#000" stroke-opacity="0.5" stroke-width="1.25"/>
<line x1="326.72" y1="469" x2="326.72" y2="475" stroke="#000" stroke-opacity="0.38" stroke-width="1.25"/>
<line x1="329.40" y1="469" x2="329.40" y2="475" stroke="#000" stroke-opacity="0.5" stroke-width="1.25"/>
<line x1="332.09" y1="469" x2="332.09" y2="475" stroke="#000" stroke-opacity="0.38" stroke-width="1.25"/>
<line x1="334.77" y1="469" x2="334.77" y2="475" stroke="#000" stroke-opacity="0.5" stroke-width="1.25"/>
<line x1="337.45" y1="469" x2="337.45" y2="475" stroke="#000" stroke-opacity="0.38" stroke-width="1.25"/>
<line x1="340.14" y1="469" x2="340.14" y2="475" stroke="#000" stroke-opacity="0.5" stroke-width="1.25"/>
<line x1="342.82" y1="469" x2="342.82" y2="475" stroke="#000" stroke-opacity="0.38" stroke-width="1.25"/>
<line x1="345.50" y1="469" x2="345.50" y2="475" stroke="#000" stroke-opacity="0.5" stroke-width="1.25"/>
<line x1="348.19" y1="469" x2="348.19" y2="475" stroke="#000" stroke-opacity="0.38" stroke-width="1.25"/>
<line x1="350.87" y1="469" x2="350.87" y2="475" stroke="#000" stroke-opacity="0.5" stroke-width="1.25"/>
<line x1="353.55" y1="469" x2="353.55" y2="475" stroke="#000" stroke-opacity="0.38" stroke-width="1.25"/>
<line x1="356.24" y1="469" x2="356.24" y2="475" stroke="#000" stroke-opacity="0.5" stroke-width="1.25"/>
<line x1="358.92" y1="469" x2="358.92" y2="475" stroke="#000" stroke-opacity="0.38" stroke-width="1.25"/>
<line x1="361.61" y1="469" x2="361.61" y2="475" stroke="#000" stroke-opacity="0.5" stroke-width="1.25"/>
<line x1="364.29" y1="469" x2="364.29" y2="475" stroke="#000" stroke-opacity="0.38" stroke-width="1.25"/>
<line x1="366.97" y1="469" x2="366.97" y2="475" stroke="#000" stroke-opacity="0.5" stroke-width="1.25"/>
<line x1="369.66" y1="469" x2="369.66" y2="475" stroke="#000" stroke-opacity="0.38" stroke-width="1.25"/>
<line x1="372.34" y1="469" x2="372.34" y2="475" stroke="#000" stroke-opacity="0.5" stroke-width="1.25"/>
<line x1="375.02" y1="469" x2="375.02" y2="475" stroke="#000" stroke-opacity="0.38" stroke-width="1.25"/>
<line x1="377.71" y1="469" x2="377.71" y2="475" stroke="#000" stroke-opacity="0.5" stroke-width="1.25"/>
<line x1="380.39" y1="469" x2="380.39" y2="475" stroke="#000" stroke-opacity="0.38" stroke-width="1.25"/>
<line x1="383.07" y1="469" x2="383.07" y2="475" stroke="#000" stroke-opacity="0.5" stroke-width="1.25"/>
<line x1="385.76" y1="469" x2="385.76" y2="475" stroke="#000" stroke-opacity="0.38" stroke-width="1.25"/>
<line x1="388.44" y1="469" x2="388.44" y2="475" stroke="#000" stroke-opacity="0.5" stroke-width="1.25"/>
<line x1="391.12" y1="469" x2="391.12" y2="475" stroke="#000" stroke-opacity="0.38" stroke-width="1.25"/>
<line x1="393.81" y1="469" x2="393.81" y2="475" stroke="#000" stroke-opacity="0.5" stroke-width="1.25"/>
<line x1="396.49" y1="469" x2="396.49" y2="475" stroke="#000" stroke-opacity="0.38" stroke-width="1.25"/>
<line x1="399.17" y1="469" x2="399.17" y2="475" stroke="#000" stroke-opacity="0.5" stroke-width="1.25"/>
<line x1="401.86" y1="469" x2="401.86" y2="475" stroke="#000" stroke-opacity="0.38" stroke-width="1.25"/>
<line x1="404.54" y1="469" x2="404.54" y2="475" stroke="#000" stroke-opacity="0.5" stroke-width="1.25"/>
<line x1="407.22" y1="469" x2="407.22" y2="475" stroke="#000" stroke-opacity="0.38" stroke-width="1.25"/>
<line x1="409.91" y1="469" x2="409.91" y2="475" stroke="#000" stroke-opacity="0.5" stroke-width="1.25"/>
<line x1="412.59" y1="469" x2="412.59" y2="475" stroke="#000" stroke-opacity="0.38" stroke-width="1.25"/>
<line x1="415.27" y1="469" x2="415.27" y2="475" stroke="#000" stroke-opacity="0.5" stroke-width="1.25"/>
<line x1="417.96" y1="469" x2="417.96" y2="475" stroke="#000" stroke-opacity="0.38" stroke-width="1.25"/>
<line x1="420.64" y1="469" x2="420.64" y2="475" stroke="#000" stroke-opacity="0.5" stroke-width="1.25"/>
<line x1="423.33" y1="469" x2="423.33" y2="475" stroke="#000" stroke-opacity="0.38" stroke-width="1.25"/>
<line x1="426.01" y1="469" x2="426.01" y2="475" stroke="#000" stroke-opacity="0.5" stroke-width="1.25"/>
<line x1="428.69" y1="469" x2="428.69" y2="475" stroke="#000" stroke-opacity="0.38" stroke-width="1.25"/>
<line x1="431.38" y1="469" x2="431.38" y2="475" stroke="#000" stroke-opacity="0.5" stroke-width="1.25"/>
<line x1="434.06" y1="469" x2="434.06" y2="475" stroke="#000" stroke-opacity="0.38" stroke-width="1.25"/>
<line x1="436.74" y1="469" x2="436.74" y2="475" stroke="#000" stroke-opacity="0.5" stroke-width="1.25"/>
<line x1="439.43" y1="469" x2="439.43" y2="475" stroke="#000" stroke-opacity="0.38" stroke-width="1.25"/>
<line x1="442.11" y1="469" x2="442.11" y2="475" stroke="#000" stroke-opacity="0.5" stroke-width="1.25"/>
<line x1="444.79" y1="469" x2="444.79" y2="475" stroke="#000" stroke-opacity="0.38" stroke-width="1.25"/>
<line x1="447.48" y1="469" x2="447.48" y2="475" stroke="#000" stroke-opacity="0.5" stroke-width="1.25"/>
<line x1="450.16" y1="469" x2="450.16" y2="475" stroke="#000" stroke-opacity="0.38" stroke-width="1.25"/>
<line x1="452.84" y1="469" x2="452.84" y2="475" stroke="#000" stroke-opacity="0.5" stroke-width="1.25"/>
<line x1="455.53" y1="469" x2="455.53" y2="475" stroke="#000" stroke-opacity="0.38" stroke-width="1.25"/>
<line x1="458.21" y1="469" x2="458.21" y2="475" stroke="#000" stroke-opacity="0.5" stroke-width="1.25"/>
<line x1="460.89" y1="469" x2="460.89" y2="475" stroke="#000" stroke-opacity="0.38" stroke-width="1.25"/>
<line x1="463.58" y1="469" x2="463.58" y2="475" stroke="#000" stroke-opacity="0.5" stroke-width="1.25"/>
<line x1="466.26" y1="469" x2="466.26" y2="475" stroke="#000" stroke-opacity="0.38" stroke-width="1.25"/>
<line x1="468.94" y1="469" x2="468.94" y2="475" stroke="#000" stroke-opacity="0.5" stroke-width="1.25"/>
<line x1="471.63" y1="469" x2="471.63" y2="475" stroke="#000" stroke-opacity="0.38" stroke-width="1.25"/>
<line x1="474.31" y1="469" x2="474.31" y2="475" stroke="#000" stroke-opacity="0.5" stroke-width="1.25"/>
<line x1="476.99" y1="469" x2="476.99" y2="475" stroke="#000" stroke-opacity="0.38" stroke-width="1.25"/>
<line x1="479.68" y1="469" x2="479.68" y2="475" stroke="#000" stroke-opacity="0.5" stroke-width="1.25"/>
<line x1="482.36" y1="469" x2="482.36" y2="475" stroke="#000" stroke-opacity="0.38" stroke-width="1.25"/>
<line x1="485.05" y1="469" x2="485.05" y2="475" stroke="#000" stroke-opacity="0.5" stroke-width="1.25"/>
<line x1="487.73" y1="469" x2="487.73" y2="475" stroke="#000" stroke-opacity="0.38" stroke-width="1.25"/>
<line x1="490.41" y1="469" x2="490.41" y2="475" stroke="#000" stroke-opacity="0.5" stroke-width="1.25"/>
<line x1="493.10" y1="469" x2="493.10" y2="475" stroke="#000" stroke-opacity="0.38" stroke-width="1.25"/>
<line x1="495.78" y1="469" x2="495.78" y2="475" stroke="#000" stroke-opacity="0.5" stroke-width="1.25"/>
<line x1="498.46" y1="469" x2="498.46" y2="475" stroke="#000" stroke-opacity="0.38" stroke-width="1.25"/>
<line x1="501.15" y1="469" x2="501.15" y2="475" stroke="#000" stroke-opacity="0.5" stroke-width="1.25"/>
<line x1="503.83" y1="469" x2="503.83" y2="475" stroke="#000" stroke-opacity="0.38" stroke-width="1.25"/>
<line x1="506.51" y1="469" x2="506.51" y2="475" stroke="#000" stroke-opacity="0.5" stroke-width="1.25"/>
<line x1="509.20" y1="469" x2="509.20" y2="475" stroke="#000" stroke-opacity="0.38" stroke-width="1.25"/>
<line x1="511.88" y1="469" x2="511.88" y2="475" stroke="#000" stroke-opacity="0.5" stroke-width="1.25"/>
<line x1="514.56" y1="469" x2="514.56" y2="475" stroke="#000" stroke-opacity="0.38" stroke-width="1.25"/>
<line x1="517.25" y1="469" x2="517.25" y2="475" stroke="#000" stroke-opacity="0.5" stroke-width="1.25"/>
<line x1="519.93" y1="469" x2="519.93" y2="475" stroke="#000" stroke-opacity="0.38" stroke-width="1.25"/>
<line x1="522.61" y1="469" x2="522.61" y2="475" stroke="#000" stroke-opacity="0.5" stroke-width="1.25"/>
<line x1="525.30" y1="469" x2="525.30" y2="475" stroke="#000" stroke-opacity="0.38" stroke-width="1.25"/>
<line x1="527.98" y1="469" x2="527.98" y2="475" stroke="#000" stroke-opacity="0.5" stroke-width="1.25"/>
<line x1="530.66" y1="469" x2="530.66" y2="475" stroke="#000" stroke-opacity="0.38" stroke-width="1.25"/>
<line x1="533.35" y1="469" x2="533.35" y2="475" stroke="#000" stroke-opacity="0.5" stroke-width="1.25"/>
<line x1="536.03" y1="469" x2="536.03" y2="475" stroke="#000" stroke-opacity="0.38" stroke-width="1.25"/>
<line x1="538.71" y1="469" x2="538.71" y2="475" stroke="#000" stroke-opacity="0.5" stroke-width="1.25"/>
<line x1="541.40" y1="469" x2="541.40" y2="475" stroke="#000" stroke-opacity="0.38" stroke-width="1.25"/>
<line x1="544.08" y1="469" x2="544.08" y2="475" stroke="#000" stroke-opacity="0.5" stroke-width="1.25"/>
<line x1="546.77" y1="469" x2="546.77" y2="475" stroke="#000" stroke-opacity="0.38" stroke-width="1.25"/>
<line x1="549.45" y1="469" x2="549.45" y2="475" stroke="#000" stroke-opacity="0.5" stroke-width="1.25"/>
<line x1="552.13" y1="469" x2="552.13" y2="475" stroke="#000" stroke-opacity="0.38" stroke-width="1.25"/>
<line x1="554.82" y1="469" x2="554.82" y2="475" stroke="#000" stroke-opacity="0.5" stroke-width="1.25"/>
<line x1="557.50" y1="469" x2="557.50" y2="475" stroke="#000" stroke-opacity="0.38" stroke-width="1.25"/>
<line x1="560.18" y1="469" x2="560.18" y2="475" stroke="#000" stroke-opacity="0.5" stroke-width="1.25"/>
<line x1="562.87" y1="469" x2="562.87" y2="475" stroke="#000" stroke-opacity="0.38" stroke-width="1.25"/>
<line x1="565.55" y1="469" x2="565.55" y2="475" stroke="#000" stroke-opacity="0.5" stroke-width="1.25"/>
<line x1="568.23" y1="469" x2="568.23" y2="475" stroke="#000" stroke-opacity="0.38" stroke-width="1.25"/>
<line x1="570.92" y1="469" x2="570.92" y2="475" stroke="#000" stroke-opacity="0.5" stroke-width="1.25"/>
<line x1="573.60" y1="469" x2="573.60" y2="475" stroke="#000" stroke-opacity="0.38" stroke-width="1.25"/>
</svg>
</body></html>
